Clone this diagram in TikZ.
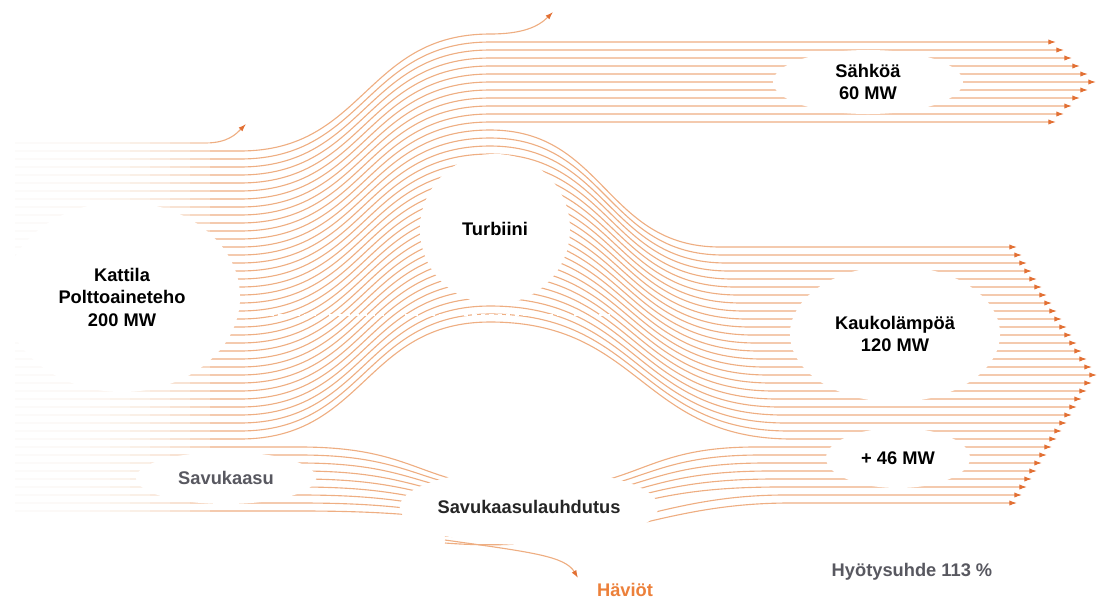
\documentclass[tikz,border=0pt]{standalone}
\usepackage{fontspec}
\setmainfont{Liberation Sans}
\usetikzlibrary{shapes.geometric,arrows.meta}
\definecolor{flowc}{RGB}{238,174,130}
\definecolor{tipc}{RGB}{226,112,52}
\definecolor{lossc}{RGB}{236,128,58}
\definecolor{greyc}{RGB}{88,88,96}
\begin{document}
\begin{tikzpicture}[x=0.025cm,y=-0.025cm,
    flow/.style={draw=flowc,line width=0.8pt},
    tip/.style={-{Latex[length=5.5pt,width=3.8pt,color=tipc]}},
    blob/.style={ellipse,fill=white,inner sep=0pt,align=center,font=\fontsize{13}{16}\selectfont\bfseries},
    lbl/.style={font=\fontsize{13}{16}\selectfont\bfseries}]
    \useasboundingbox (0,0) rectangle (1101,601);

    % losses at the top
    \draw[flow,tip] (15,143) -- (205,143) .. controls (228,143) and (236,134) .. (246,124);
    \draw[flow,tip] (15,151) -- (240,151) .. controls (365,151) and (365,34) .. (490,34) .. controls (522,34) and (538,27) .. (553,12);

    % electricity
    \foreach \i in {0,...,10}{
        \pgfmathsetmacro\yl{159+8*\i}
        \pgfmathsetmacro\yr{42+8*\i}
        \pgfmathsetmacro\xe{1096-8*abs(\i-5)}
        \draw[flow,tip] (15,\yl) -- (240,\yl) .. controls (365,\yl) and (365,\yr) .. (490,\yr) -- (\xe,\yr);
    }

    % district heat
    \foreach \j in {0,...,24}{
        \pgfmathsetmacro\yl{247+8*\j}
        \pgfmathsetmacro\ym{130+8*\j}
        \pgfmathsetmacro\xc{720+3*\j}
        \pgfmathsetmacro\xm{0.5*(490+\xc)}
        \pgfmathsetmacro\xe{1097-5*abs(\j-16)}
        \draw[flow,tip] (15,\yl) -- (240,\yl) .. controls (365,\yl) and (365,\ym) .. (490,\ym) .. controls (\xm,\ym) and (\xm,\yl) .. (\xc,\yl) -- (\xe,\yl);
    }

    % flue gas in
    \foreach \m in {0,...,8}{
        \pgfmathsetmacro\yl{447+8*\m}
        \pgfmathsetmacro\ym{488+4*\m}
        \draw[flow] (15,\yl) -- (300,\yl) .. controls (420,\yl) and (420,\ym) .. (525,\ym);
    }

    % condensation out
    \foreach \m in {0,...,5}{
        \pgfmathsetmacro\ys{490+5*\m}
        \pgfmathsetmacro\yr{447+8*\m}
        \pgfmathsetmacro\xc{755+5*\m}
        \pgfmathsetmacro\xe{1097-5*abs(\m+25-16)}
        \draw[flow,tip] (525,\ys) .. controls (640,\ys) and (640,\yr) .. (\xc,\yr) -- (\xe,\yr);
    }
    \foreach \n in {0,1}{
        \pgfmathsetmacro\ys{536+7*\n}
        \pgfmathsetmacro\yc{548+7*\n}
        \pgfmathsetmacro\yr{495+8*\n}
        \pgfmathsetmacro\xc{785+5*\n}
        \pgfmathsetmacro\xe{1097-5*abs(\n+31-16)}
        \draw[flow,tip] (445,\ys) .. controls (600,\yc) and (650,\yr) .. (\xc,\yr) -- (\xe,\yr);
    }
    \draw[flow,tip] (445,540) .. controls (530,552) and (565,556) .. (578,578);

    % fade on the left
    \foreach \k in {1,...,10}
        \fill[white,opacity=0.28] (0,100) rectangle (20*\k+10,530);
    \draw[white,dashed,line width=1pt] (270,315) -- (610,315);

    \node[blob,minimum width=5.9cm,minimum height=4.75cm] (kattila) at (122,297) {Kattila\\Polttoaineteho\\200 MW};
    \node[blob,minimum width=3.75cm,minimum height=3.75cm] (turbiini) at (495,229) {Turbiini};
    \node[blob,minimum width=4.75cm,minimum height=1.6cm] (sahko) at (868,82) {Sähköä\\60 MW};
    \node[blob,minimum width=5.25cm,minimum height=3.4cm] (kauko) at (895,334) {Kaukolämpöä\\120 MW};
    \node[blob,minimum width=3.6cm,minimum height=1.5cm] (lisa) at (898,458) {+ 46 MW};
    \node[blob,minimum width=4.5cm,minimum height=1.3cm,text=greyc] (savu) at (226,478) {Savukaasu};
    \node[blob,minimum width=6.25cm,minimum height=1.9cm,text=black!85] (lauhdutus) at (529,507) {Savukaasulauhdutus};

    \node[lbl,text=lossc] (haviot) at (625,590) {Häviöt};
    \node[lbl,text=greyc] (hyoty) at (912,572) {Hyötysuhde 113 \%};
\end{tikzpicture}
\end{document}
